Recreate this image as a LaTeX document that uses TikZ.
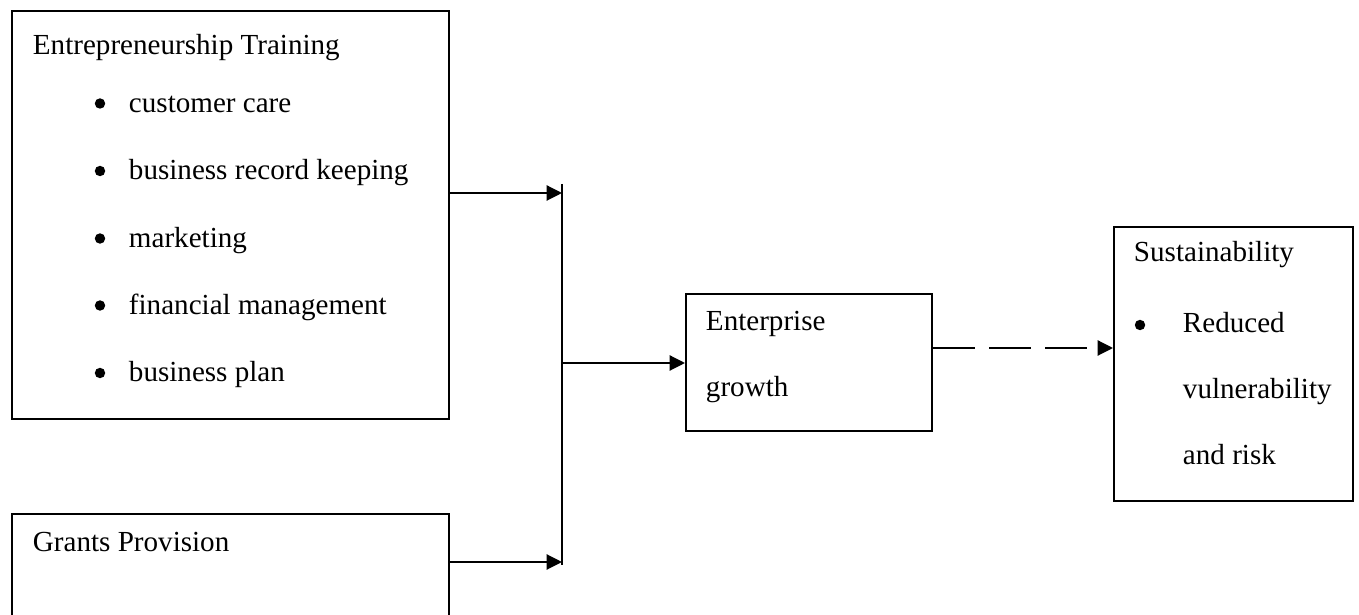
\documentclass[tikz,border=0pt]{standalone}
\usepackage{fontspec}
\setmainfont{Liberation Serif}
\usetikzlibrary{arrows.meta}

\begin{document}
\begin{tikzpicture}[x=0.4125pt, y=-0.4125pt, line width=0.8pt,
        box/.style = {draw, rectangle, inner sep=0pt, anchor=north west},
        txt/.style = {inner sep=0pt, anchor=base west, font=\fontsize{12pt}{14pt}\selectfont},
        dot/.style = {circle, fill, inner sep=0pt, minimum size=4.3pt},
        arr/.style = {-{Triangle[length=6.3pt, width=6.2pt]}}]
        \useasboundingbox (0,0) rectangle (1359,615);
        \clip (0,0) rectangle (1359,615);
        % boxes
        \node[box, minimum width=180.3pt, minimum height=168.3pt] (train) at (11,10) {};
        \node[box, minimum width=180.3pt, minimum height=57.8pt] (grants) at (11,513) {};
        \node[box, minimum width=101.5pt, minimum height=56.5pt] (growth) at (685,293) {};
        \node[box, minimum width=98.6pt, minimum height=113pt] (sust) at (1113,226) {};
        % texts
        \node[txt] (trainT) at (32,55) {Entrepreneurship Training};
        \node[dot] (b1) at (100,103.5) {};
        \node[txt] (i1) at (128,113) {customer care};
        \node[dot] (b2) at (100,171) {};
        \node[txt] (i2) at (128,180) {business record keeping};
        \node[dot] (b3) at (100,238.5) {};
        \node[txt] (i3) at (128,248) {marketing};
        \node[dot] (b4) at (100,305.5) {};
        \node[txt] (i4) at (128,315) {financial management};
        \node[dot] (b5) at (100,373) {};
        \node[txt] (i5) at (128,382) {business plan};
        \node[txt] (grantsT) at (32,551) {Grants Provision};
        \node[txt] (growthT1) at (705,331) {Enterprise};
        \node[txt] (growthT2) at (705,397) {growth};
        \node[txt] (sustT) at (1133,262) {Sustainability};
        \node[dot] (b6) at (1140,325) {};
        \node[txt] (s1) at (1182,333) {Reduced};
        \node[txt] (s2) at (1182,399) {vulnerability};
        \node[txt] (s3) at (1182,465) {and risk};
        % joining bar
        \coordinate (bartop) at (562,184);
        \coordinate (barbot) at (562,565);
        \coordinate (jtop) at (562,193);
        \coordinate (jbot) at (562,562);
        \coordinate (jmid) at (562,363);
        \coordinate (dsh) at (0,348);
        \draw (bartop) -- (barbot);
        \draw[arr] (train.east |- jtop) -- (jtop);
        \draw[arr] (grants.east |- jbot) -- (jbot);
        \draw[arr] (jmid) -- (growth.west |- jmid);
        \draw[arr, dash pattern=on 17.3pt off 5.8pt] (growth.east |- dsh) -- (sust.west |- dsh);
    \end{tikzpicture}
\end{document}
